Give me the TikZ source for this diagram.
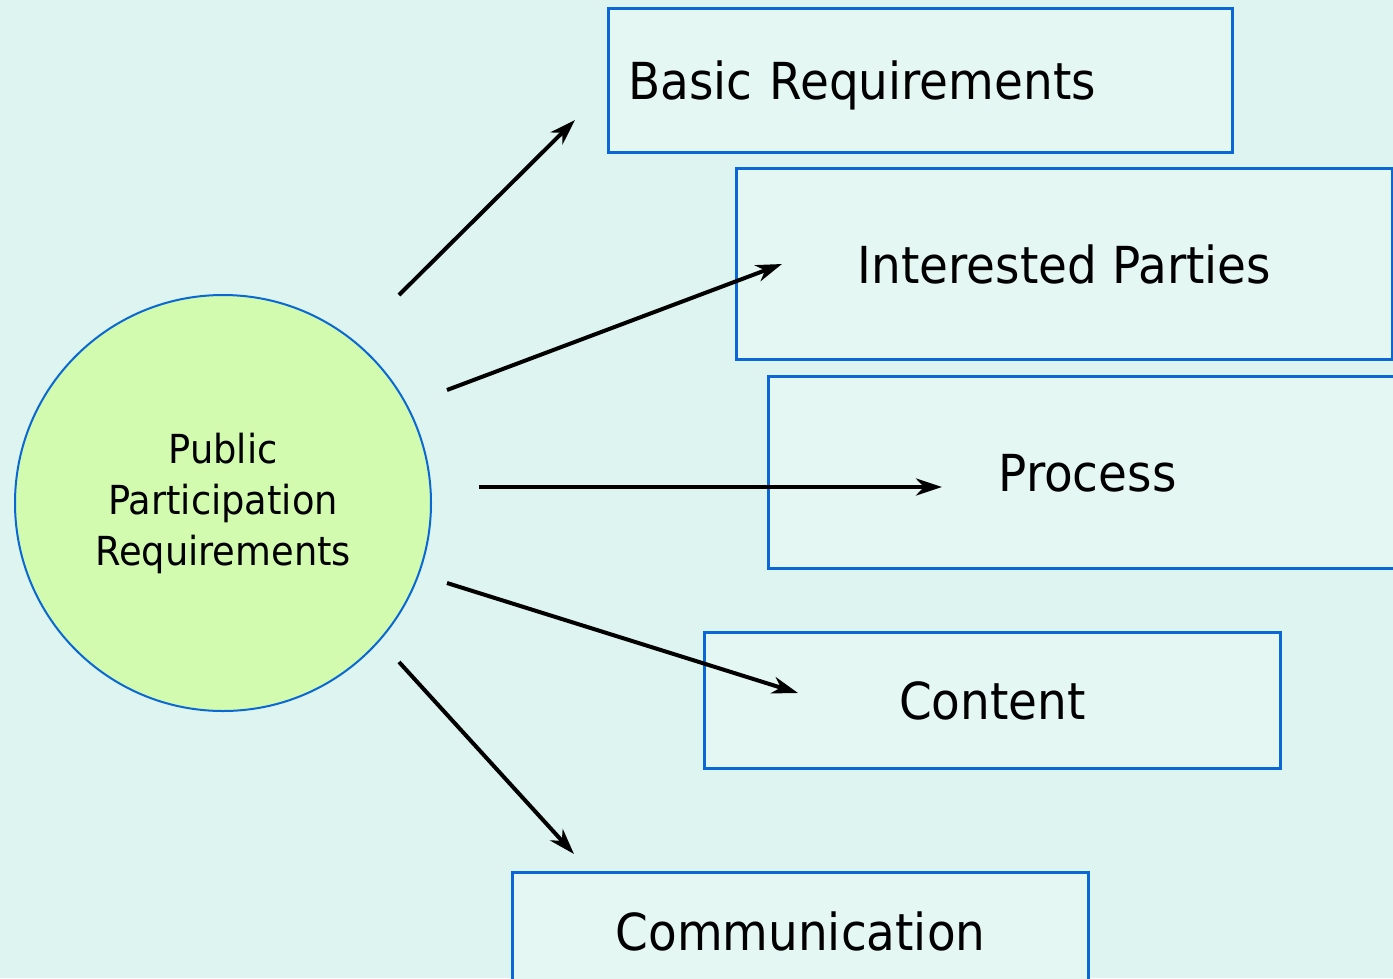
\documentclass[tikz,border=0pt]{standalone}
\usepackage{fontspec}
\setmainfont{DejaVu Sans}[FakeStretch=0.92]
\usetikzlibrary{arrows.meta}
\definecolor{bgcol}{HTML}{DDF4F0}
\definecolor{boxfill}{HTML}{E4F7F3}
\definecolor{edgeblue}{HTML}{0A68D6}
\definecolor{hubfill}{HTML}{D2FBB0}
\tikzset{
  topic/.style={draw=edgeblue, line width=3pt, fill=boxfill, anchor=north west,
    font=\fontsize{51}{60}\selectfont, inner sep=0pt, text depth=0pt},
  hub/.style={circle, draw=edgeblue, line width=2pt, fill=hubfill,
    minimum size=416pt, inner sep=0pt, align=center,
    font=\fontsize{40}{51}\selectfont},
  link/.style={line width=4pt, -{Stealth[length=26pt, width=17pt, inset=8pt]}}
}
\begin{document}
\begin{tikzpicture}[x=1pt, y=-1pt]
  \useasboundingbox[fill=bgcol] (0,0) rectangle (1393,978);

  % central topic
  \node[hub] (pp) at (223,503) {Public\\Participation\\Requirements};

  % requirement boxes
  \node[topic, minimum width=624pt, minimum height=144pt, text width=584pt,
        align=left, inner xsep=20pt] (basic) at (607,7) {Basic Requirements};
  \node[topic, minimum width=656pt, minimum height=191pt] (parties) at (735,167)
        {Interested Parties};
  \node[topic, minimum width=638pt, minimum height=192pt] (process) at (767,375)
        {Process};
  \node[topic, minimum width=576pt, minimum height=136pt] (content) at (703,631)
        {Content};
  \node[topic, minimum width=576pt, minimum height=118pt] (comm) at (511,871)
        {Communication};

  % arrow end points
  \coordinate (s1) at (399,295);  \coordinate (e1) at (575,120);
  \coordinate (s2) at (447,390);  \coordinate (e2) at (782,264);
  \coordinate (s3) at (479,487);  \coordinate (e3) at (942,487);
  \coordinate (s4) at (447,583);  \coordinate (e4) at (798,693);
  \coordinate (s5) at (399,662);  \coordinate (e5) at (574,854);

  \draw[link] (s1) -- (e1);
  \draw[link] (s2) -- (e2);
  \draw[link] (s3) -- (e3);
  \draw[link] (s4) -- (e4);
  \draw[link] (s5) -- (e5);
\end{tikzpicture}
\end{document}
